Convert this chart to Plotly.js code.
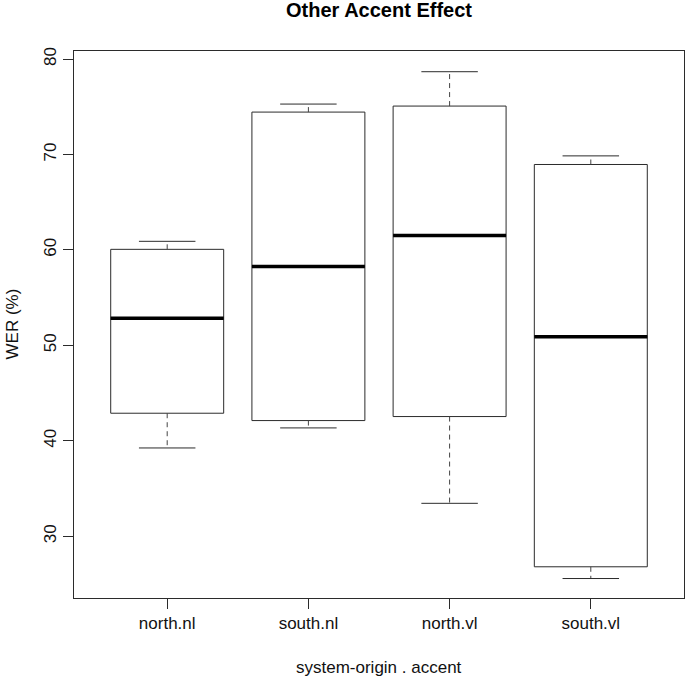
<!DOCTYPE html>
<html>
<head>
<meta charset="utf-8">
<script src="https://cdn.plot.ly/plotly-3.0.1.min.js"></script>
<style>html,body{margin:0;padding:0;background:#fff;}#chart{width:685px;height:676px;}</style>
</head>
<body>
<div id="chart"></div>
<script>
// Data
const categories = ["north.nl", "south.nl", "north.vl", "south.vl"];
const positions  = [1, 2, 3, 4];
const lowerWhisker = [39.25, 41.35, 33.45, 25.57];
const q1           = [42.89, 42.12, 42.54, 26.80];
const median       = [52.85, 58.25, 61.50, 50.90];
const q3           = [60.06, 74.44, 75.07, 68.95];
const upperWhisker = [60.90, 75.28, 78.67, 69.85];
const yTicks = [30, 40, 50, 60, 70, 80];

const boxHalf = 0.4;   // box width 0.8
const capHalf = 0.2;   // staple width 0.4
const ink = "#2b2b2b";
const fontFam = "'Liberation Sans', Arial, Helvetica, sans-serif";

const traces = [];

// Boxes (no whiskers; whiskers drawn dashed separately)
traces.push({
  type: "box",
  x: positions,
  q1: q1, median: median, q3: q3,
  lowerfence: q1, upperfence: q3,
  width: 0.8,
  whiskerwidth: 0,
  fillcolor: "#ffffff",
  line: {color: ink, width: 1},
  boxpoints: false,
  hoverinfo: "skip",
  showlegend: false
});

// Dashed whiskers
const wx = [], wy = [];
positions.forEach((p, i) => {
  wx.push(p, p, null, p, p, null);
  wy.push(q3[i], upperWhisker[i], null, q1[i], lowerWhisker[i], null);
});
traces.push({type: "scatter", mode: "lines", x: wx, y: wy,
  line: {color: "#444", width: 1, dash: "5px,4px"}, hoverinfo: "skip", showlegend: false});

// Whisker caps
const cx = [], cy = [];
positions.forEach((p, i) => {
  cx.push(p - capHalf, p + capHalf, null, p - capHalf, p + capHalf, null);
  cy.push(upperWhisker[i], upperWhisker[i], null, lowerWhisker[i], lowerWhisker[i], null);
});
traces.push({type: "scatter", mode: "lines", x: cx, y: cy,
  line: {color: ink, width: 1}, hoverinfo: "skip", showlegend: false});

// Thick medians
const mx = [], my = [];
positions.forEach((p, i) => {
  mx.push(p - boxHalf, p + boxHalf, null);
  my.push(median[i], median[i], null);
});
traces.push({type: "scatter", mode: "lines", x: mx, y: my,
  line: {color: "#000", width: 3.5}, hoverinfo: "skip", showlegend: false});

const layout = {
  width: 685, height: 676,
  margin: {l: 74, r: 1, t: 51, b: 78},
  paper_bgcolor: "#fff", plot_bgcolor: "#fff",
  showlegend: false,
  font: {family: fontFam, size: 17, color: "#111"},
  title: {
    text: "<b>Other Accent Effect</b>",
    font: {family: fontFam, size: 20, color: "#000"},
    x: 0.5, xref: "paper", xanchor: "center",
    y: 1 - 10 / 676, yref: "container", yanchor: "middle"
  },
  xaxis: {
    range: [0.34, 4.66],
    tickmode: "array", tickvals: positions, ticktext: categories,
    ticks: "outside", ticklen: 10, tickwidth: 1, tickcolor: ink,
    showline: true, mirror: true, linecolor: ink, linewidth: 1,
    showgrid: false, zeroline: false,
    tickfont: {family: fontFam, size: 17, color: "#111"}
  },
  yaxis: {
    range: [23.53, 80.84],
    tickmode: "array", tickvals: yTicks, ticktext: yTicks.map(String),
    tickangle: -90,
    ticks: "outside", ticklen: 10, tickwidth: 1, tickcolor: ink,
    showline: true, mirror: true, linecolor: ink, linewidth: 1,
    showgrid: false, zeroline: false,
    tickfont: {family: fontFam, size: 17, color: "#111"}
  },
  annotations: [
    {text: "system-origin . accent", xref: "paper", yref: "paper",
     x: 0.5, y: -69 / 547, xanchor: "center", yanchor: "middle", showarrow: false,
     font: {family: fontFam, size: 17, color: "#111"}},
    {text: "WER (%)", xref: "paper", yref: "paper",
     x: -62 / 610, y: 0.5, xanchor: "center", yanchor: "middle", textangle: -90, showarrow: false,
     font: {family: fontFam, size: 17, color: "#111"}}
  ]
};

Plotly.newPlot("chart", traces, layout, {displayModeBar: false, staticPlot: true});
</script>
</body>
</html>
